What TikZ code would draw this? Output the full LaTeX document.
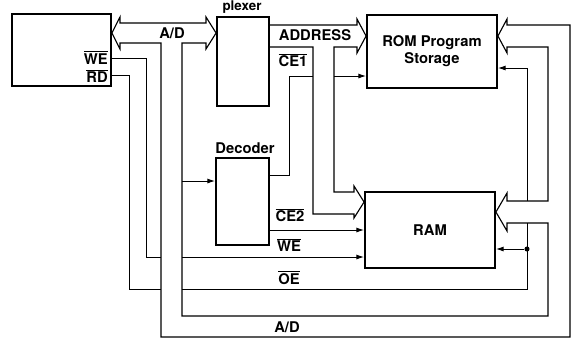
\documentclass[tikz,border=0pt]{standalone}
\usepackage{fontspec}
\setmainfont{TeX Gyre Heros}
\usepackage{tikz}
\usetikzlibrary{arrows.meta, calc}

\newcommand{\barsig}[1]{$\overline{\mbox{#1}}$}

\begin{document}
\begin{tikzpicture}[x=0.025cm, y=-0.025cm,
  blk/.style={draw, line width=1.3pt, inner sep=0pt, align=center,
              font=\fontsize{10.5}{12}\selectfont\bfseries},
  lbl/.style={font=\fontsize{10.5}{12}\selectfont\bfseries, inner sep=0pt},
  sig/.style={line width=0.7pt},
  sigarr/.style={sig, -{Latex[length=5.5pt, width=3.6pt]}},
  bus/.style={line width=0.8pt, line join=miter},
  dot/.style={circle, fill, inner sep=0pt, minimum size=3.6pt},
]
  \useasboundingbox (0,0) rectangle (577,345);

  % Blocks
  \node[blk, minimum width=2.475cm, minimum height=1.8cm] (cpu) at (61.5,50) {};
  \node[blk, minimum width=1.3cm, minimum height=2.225cm] (mux) at (243,61.5) {};
  \node[blk, minimum width=1.325cm, minimum height=2.175cm] (dec) at (242.5,201.5) {};
  \node[blk, minimum width=3.25cm, minimum height=1.825cm] (rom) at (432,51.5) {ROM Program\\Storage};
  \node[blk, minimum width=3.25cm, minimum height=1.9cm] (ram) at (430,230) {RAM};

  % Titles and labels
  \node[lbl, font=\fontsize{9.5}{11}\selectfont\bfseries, anchor=north] (muxtitle) at (242,0.8) {plexer};
  \node[lbl] (dectitle) at (245,148) {Decoder};
  \node[lbl, anchor=east] (welbl) at (108,57.5) {\barsig{WE}};
  \node[lbl, anchor=east] (rdlbl) at (108,76) {\barsig{RD}};
  \node[lbl] (adtop) at (172,33) {A/D};
  \node[lbl] (addrlbl) at (315,35.5) {ADDRESS};
  \node[lbl] (ceonelbl) at (293,60) {\barsig{CE1}};
  \node[lbl] (cetwolbl) at (290,215) {\barsig{CE2}};
  \node[lbl] (weramlbl) at (289,245) {\barsig{WE}};
  \node[lbl] (oelbl) at (289,277.5) {\barsig{OE}};
  \node[lbl] (adbot) at (287,327.5) {A/D};

  % A/D bus
  \draw[bus] (120,23) -- (120,17) -- (cpu.east |- 0,33) -- (120,49) -- (120,43)
    -- (161,43) -- (161,337) -- (570,337) -- (570,25) -- (507,25) -- (507,19)
    -- (rom.east |- 0,36) -- (507,53) -- (507,47) -- (548,47) -- (548,201)
    -- (507,201) -- (507,193) -- (ram.east |- 0,212) -- (507,231) -- (507,223)
    -- (548,223) -- (548,316) -- (182,316) -- (182,43) -- (206,43) -- (206,49)
    -- (mux.west |- 0,33) -- (206,17) -- (206,23) -- cycle;

  % ADDRESS bus
  \draw[bus] (mux.east |- 0,25) -- (357,25) -- (357,19) -- (rom.west |- 0,36)
    -- (357,53) -- (357,47) -- (334,47) -- (334,192) -- (354,192) -- (354,186)
    -- (ram.west |- 0,202) -- (354,218) -- (354,214) -- (313,214) -- (313,47)
    -- (mux.east |- 0,47);

  % Control lines
  \draw[sig] (cpu.east |- 0,58) -- (146,58) -- (146,257) -- (161,257);
  \draw[sigarr] (182,257) -- (ram.west |- 0,257);
  \draw[sig] (cpu.east |- 0,75) -- (129,75) -- (129,289) -- (161,289);
  \draw[sig] (182,289) -- (527,289) -- (527,223);
  \draw[sigarr] (527,201) -- (527,68) -- (rom.east |- 0,68);
  \node[dot] (oedot) at (527,249) {};
  \draw[sigarr] (oedot) -- (ram.east |- oedot);
  \draw[sigarr] (182,181) -- (dec.west |- 0,181);
  \draw[sig] (dec.east |- 0,175) -- (289,175) -- (289,76) -- (313,76);
  \draw[sigarr] (334,76) -- (rom.west |- 0,76);
  \draw[sigarr] (dec.east |- 0,230) -- (ram.west |- 0,230);
\end{tikzpicture}
\end{document}
